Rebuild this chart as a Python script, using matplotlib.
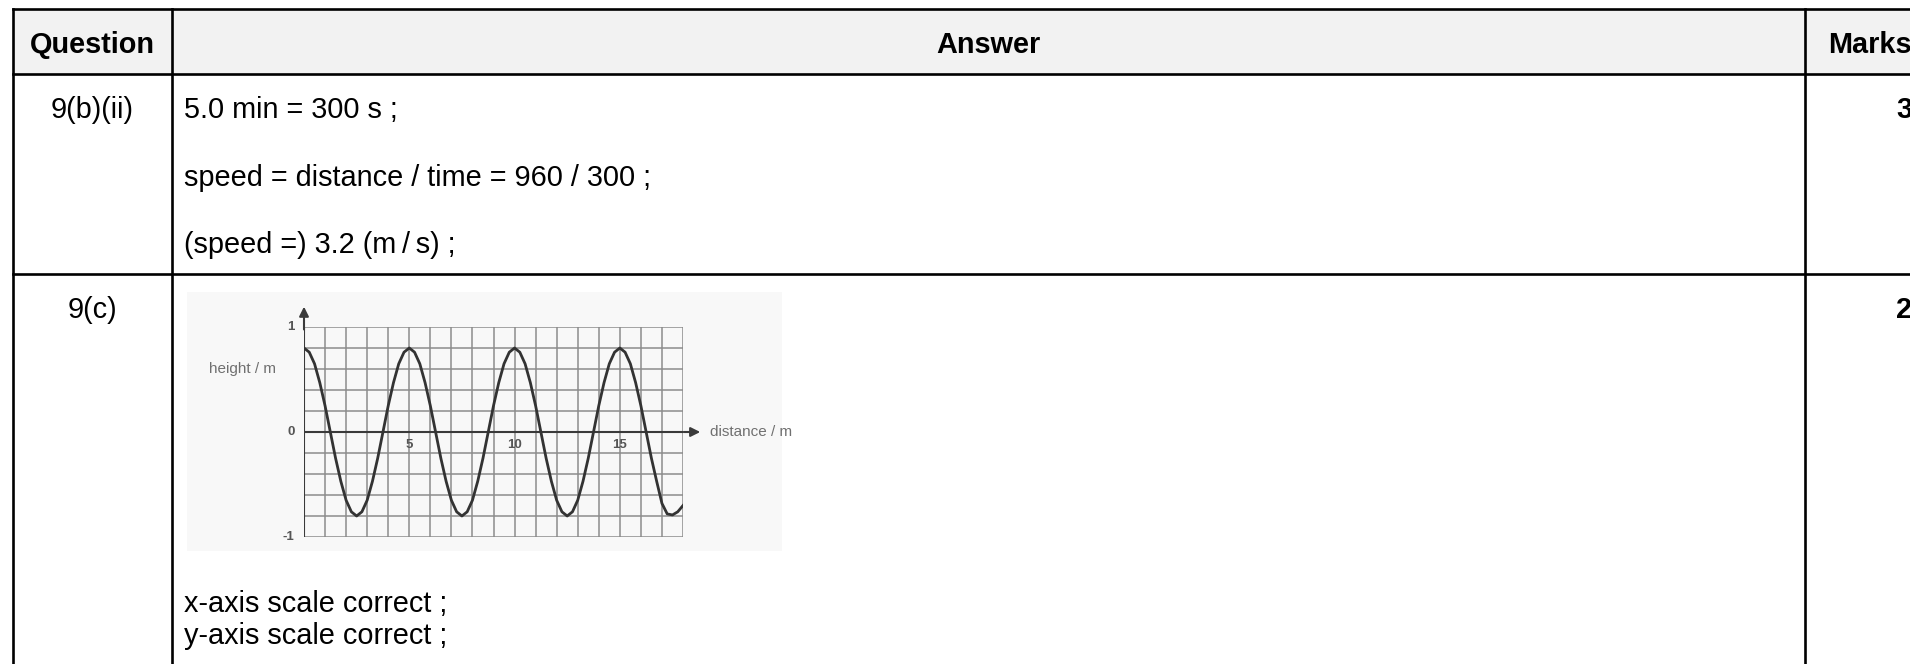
# Mark scheme table with the wave graph for 9(c)
import matplotlib
matplotlib.use('Agg')
import matplotlib.pyplot as plt
from matplotlib.patches import Rectangle

plt.rcParams['font.family'] = ['Liberation Sans', 'DejaVu Sans']

# Table content
headers = ['Question', 'Answer', 'Marks']
questions = ['9(b)(ii)', '9(c)']
answers_b = ['5.0 min = 300 s ;',
             'speed = distance / time = 960 / 300 ;',
             '(speed =) 3.2 (m\u2009/\u2009s) ;']
answers_c = ['x-axis scale correct ;', 'y-axis scale correct ;']
marks = ['3', '2']

# Wave graph readings: height / m every 0.25 m of distance, 0 to 18 m
distance_step = 0.25
height = [0.80, 0.76, 0.65, 0.47, 0.25, 0.00, -0.25, -0.47, -0.65, -0.76,
          -0.80, -0.76, -0.65, -0.47, -0.25, 0.00, 0.25, 0.47, 0.65, 0.76,
          0.80, 0.76, 0.65, 0.47, 0.25, 0.00, -0.25, -0.47, -0.65, -0.76,
          -0.80, -0.76, -0.65, -0.47, -0.25, 0.00, 0.25, 0.47, 0.65, 0.76,
          0.80, 0.76, 0.65, 0.47, 0.25, 0.00, -0.25, -0.47, -0.65, -0.76,
          -0.80, -0.76, -0.65, -0.47, -0.25, 0.00, 0.25, 0.47, 0.65, 0.76,
          0.80, 0.76, 0.65, 0.47, 0.25, 0.00, -0.25, -0.47, -0.68, -0.78,
          -0.79, -0.76, -0.70]
x_ticks = [5, 10, 15]
y_ticks = [1, 0, -1]
distance = [i * distance_step for i in range(len(height))]

W, H = 1910, 664
fig = plt.figure(figsize=(W / 100, H / 100), dpi=100)
fig.patch.set_facecolor('white')

# page axes in pixel units
page = fig.add_axes([0, 0, 1, 1])
page.set_xlim(0, W)
page.set_ylim(H, 0)
page.axis('off')

col_edges = [13, 172, 1805, 1990]
row_edges = [9, 74, 274, 720]
lw = 1.9
fs = 20.8

# header background
page.add_patch(Rectangle((col_edges[0], row_edges[0]), col_edges[-1] - col_edges[0],
                         row_edges[1] - row_edges[0], facecolor='#f2f2f2', edgecolor='none'))
for y in row_edges[:3]:
    page.plot([col_edges[0], col_edges[-1]], [y, y], color='black', lw=lw, solid_capstyle='projecting')
for x in col_edges[:3]:
    page.plot([x, x], [row_edges[0], row_edges[-1]], color='black', lw=lw, solid_capstyle='projecting')

# header text
page.text(92.5, 53, headers[0], ha='center', va='baseline', fontsize=fs, fontweight='bold')
page.text(988, 53, headers[1], ha='center', va='baseline', fontsize=fs, fontweight='bold')
page.text(1828, 53, headers[2], ha='left', va='baseline', fontsize=fs, fontweight='bold')

# row 1
page.text(92.5, 118, questions[0], ha='center', va='baseline', fontsize=fs)
for i, line in enumerate(answers_b):
    page.text(184, 118 + i * 67.5, line, ha='left', va='baseline', fontsize=fs)
page.text(1896, 118, marks[0], ha='left', va='baseline', fontsize=fs, fontweight='bold')

# row 2
page.text(92.5, 318, questions[1], ha='center', va='baseline', fontsize=fs)
page.text(1896, 318, marks[1], ha='left', va='baseline', fontsize=fs, fontweight='bold')
for i, line in enumerate(answers_c):
    page.text(184, 612 + i * 32, line, ha='left', va='baseline', fontsize=fs)

# pasted picture background
page.add_patch(Rectangle((187, 292), 595, 259, facecolor='#f8f8f8', edgecolor='none', zorder=0))

# wave graph
gx0, gx1, gy0, gy1 = 304, 683, 327, 537
ax = fig.add_axes([gx0 / W, (H - gy1) / H, (gx1 - gx0) / W, (gy1 - gy0) / H])
ax.set_facecolor('none')
ax.set_xlim(0, 18)
ax.set_ylim(-1, 1)
for s in ax.spines.values():
    s.set_visible(False)
ax.set_xticks(range(19))
ax.set_yticks([-1 + 0.2 * k for k in range(11)])
ax.tick_params(length=0, labelbottom=False, labelleft=False)
ax.grid(True, color='#8c8c8c', lw=1.1)
ax.axhline(0, color='#3a3a3a', lw=1.5)
ax.axvline(0, color='#3a3a3a', lw=1.5)
ax.plot(distance, height, color='#333333', lw=2.0)

ax.annotate('', xy=(18.95, 0), xytext=(17.9, 0), annotation_clip=False,
            arrowprops=dict(arrowstyle='-|>', color='#3a3a3a', lw=1.5, mutation_scale=14))
ax.annotate('', xy=(0, 1.22), xytext=(0, 0.95), annotation_clip=False,
            arrowprops=dict(arrowstyle='-|>', color='#3a3a3a', lw=1.5, mutation_scale=14))

for t in x_ticks:
    ax.text(t, -0.12, str(t), ha='center', va='center', fontsize=9.5,
            color='#555555', fontweight='bold', clip_on=False)
for t in y_ticks:
    ax.text(-0.45, t, str(t), ha='right', va='center', fontsize=9.5,
            color='#555555', fontweight='bold', clip_on=False)
ax.text(-2.9, 0.6, 'height / m', ha='center', va='center', fontsize=11,
        color='#707070', clip_on=False)
ax.text(19.3, 0, 'distance / m', ha='left', va='center', fontsize=11,
        color='#707070', clip_on=False)

fig.savefig('out.png', dpi=100)
